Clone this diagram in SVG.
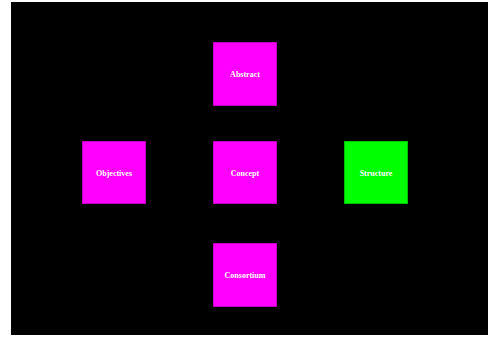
<svg xmlns="http://www.w3.org/2000/svg" width="488" height="339" viewBox="0 0 488 339">
<style>
.bg{fill:#000000}
.m{fill:#ff00ff;stroke:#c000c0;stroke-width:1}
.g{fill:#00ff00;stroke:#00c000;stroke-width:1}
.t{font-family:"Liberation Serif","Times New Roman",serif;font-weight:bold;font-size:8px;fill:#ffffff;text-anchor:middle;dominant-baseline:central}
</style>
<rect x="0" y="0" width="488" height="339" fill="#ffffff"/>
<rect class="bg" x="11" y="2" width="477" height="333"/>
<g id="connectors"></g>
<g id="abstract"><rect class="m" x="213.5" y="42.5" width="63" height="63"/><text class="t" x="245" y="74">Abstract</text></g>
<g id="objectives"><rect class="m" x="82.5" y="141.5" width="63" height="62"/><text class="t" x="114" y="173">Objectives</text></g>
<g id="concept"><rect class="m" x="213.5" y="141.5" width="63" height="62"/><text class="t" x="245" y="173">Concept</text></g>
<g id="structure"><rect class="g" x="344.5" y="141.5" width="63" height="62"/><text class="t" x="376" y="173">Structure</text></g>
<g id="consortium"><rect class="m" x="213.5" y="243.5" width="63" height="63"/><text class="t" x="245" y="275">Consortium</text></g>
</svg>
